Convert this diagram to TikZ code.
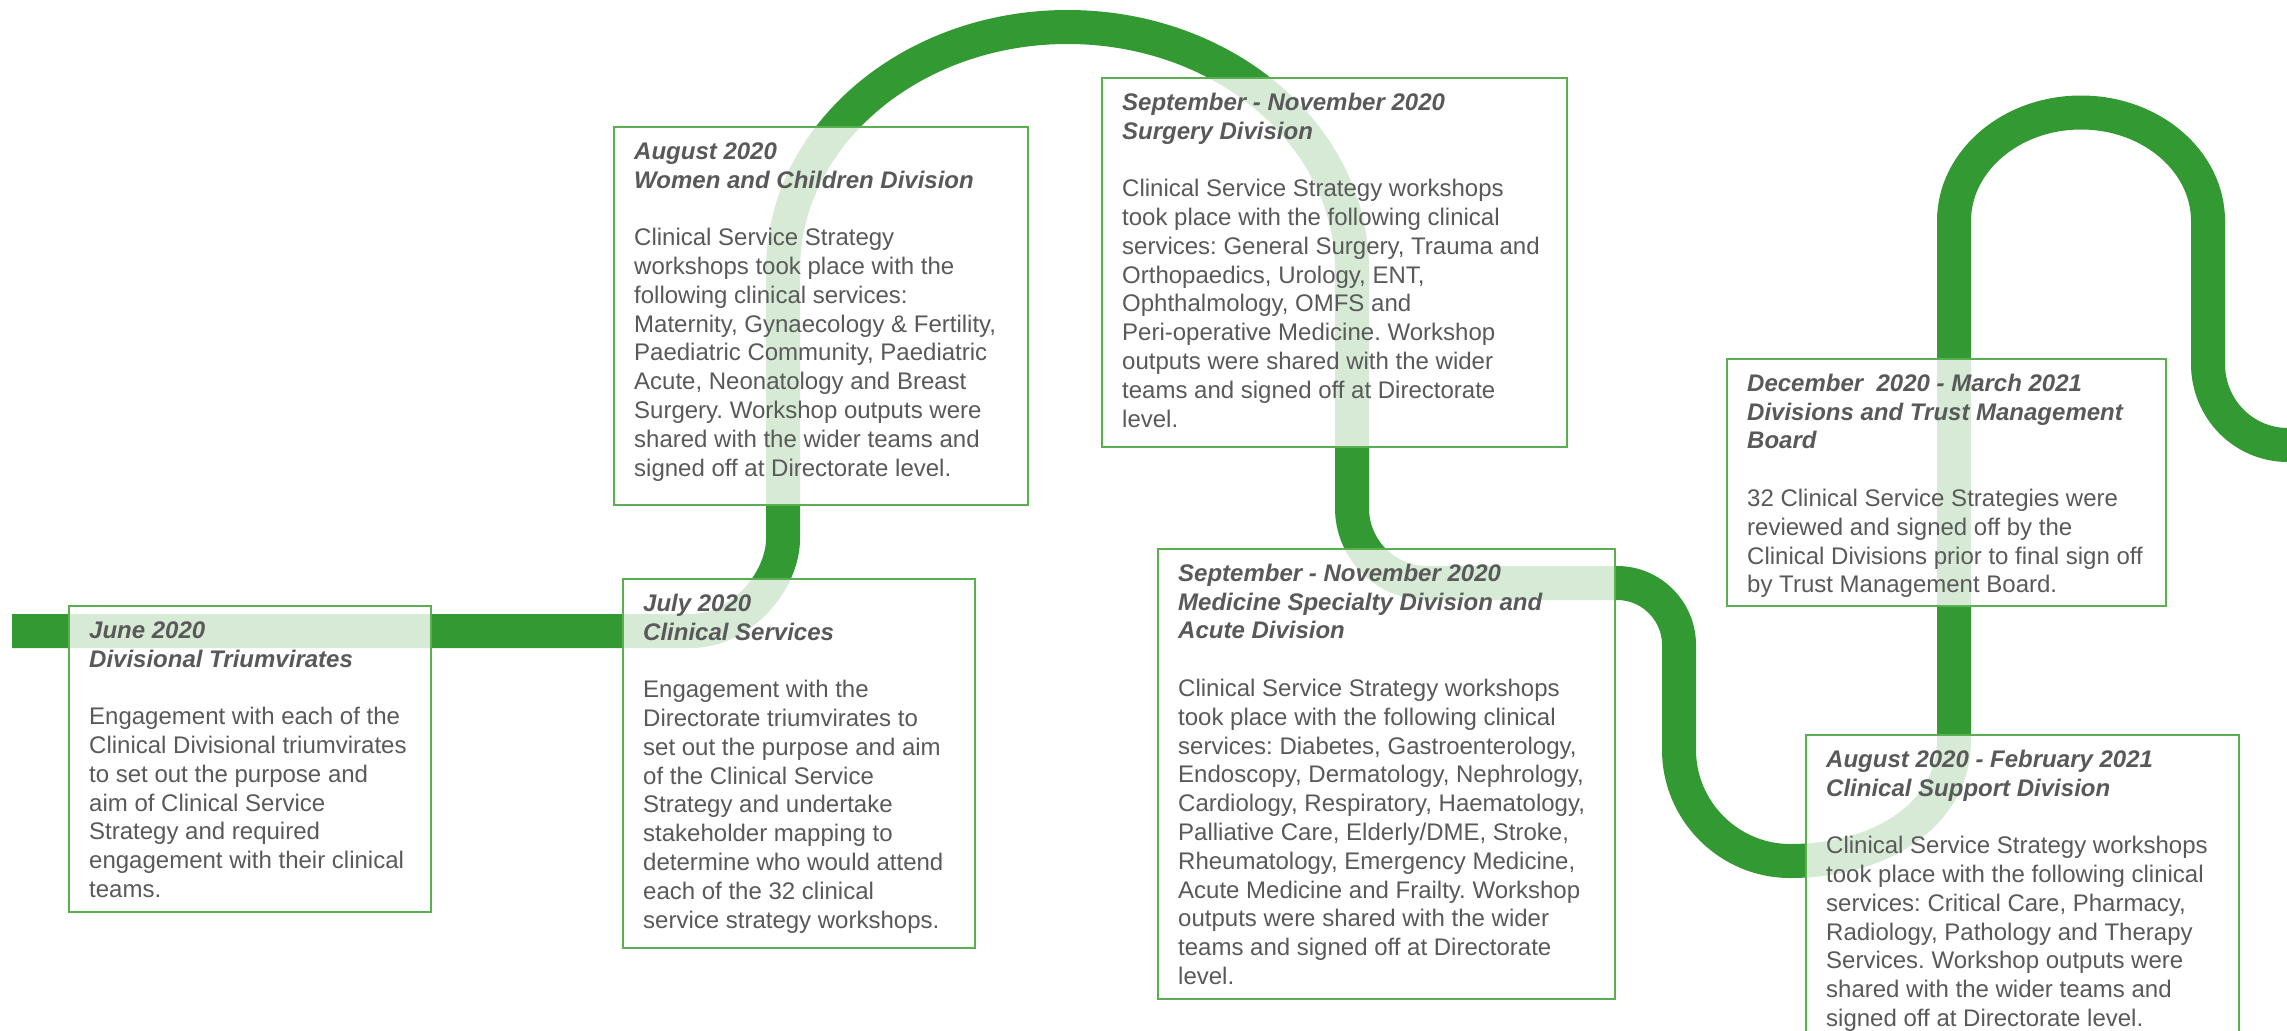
\documentclass[tikz,border=0pt]{standalone}
\usepackage{fontspec}
\setmainfont{Liberation Sans}
\frenchspacing
\definecolor{pathgreen}{RGB}{51,153,51}
\definecolor{boxgreen}{RGB}{90,175,80}
\definecolor{txtgray}{RGB}{89,89,89}
\newcommand{\cardhead}[1]{{\bfseries\itshape #1}}
\newcommand{\firststrut}{\rule{0pt}{20pt}}
\tikzset{
  road/.style={draw=pathgreen, line width=34pt},
  card/.style={draw=boxgreen, line width=2pt, fill=white, fill opacity=0.8, draw opacity=1, rectangle, inner sep=0pt, anchor=north west},
  cardtext/.style={anchor=north west, inner sep=0pt, align=left, text=txtgray, font=\fontsize{24}{28.8}\selectfont\frenchspacing},
}
\begin{document}
\begin{tikzpicture}[x=1pt,y=-1pt]
\useasboundingbox (0,0) rectangle (2287,1031);
\clip (0,0) rectangle (2287,1031);
\fill[white] (0,0) rectangle (2287,1031);
% timeline road
\draw[road] (12,631) -- (691,631)
  .. controls (741.8,631) and (783,580.2) .. (783,539)
  -- (783,270)
  .. controls (783,135.8) and (910.4,27) .. (1067.5,27)
  .. controls (1224.6,27) and (1352,135.8) .. (1352,270)
  -- (1352,508)
  .. controls (1352,549.4) and (1385.6,583) .. (1427,583)
  -- (1617,583)
  .. controls (1651.2,583) and (1679,610.8) .. (1679,645)
  -- (1679,750)
  .. controls (1679,811) and (1729,861) .. (1790,861)
  .. controls (1880,861) and (1954,815) .. (1954,740)
  -- (1954,221)
  .. controls (1954,161.1) and (2010.9,112.5) .. (2081,112.5)
  .. controls (2151.1,112.5) and (2208,161.1) .. (2208,221)
  -- (2208,364)
  .. controls (2208,408.7) and (2243.3,445) .. (2288,445)
  -- (2310,445);
% cards
\node[card, minimum width=362pt, minimum height=306pt] (b1) at (68,605) {};
\node[card, minimum width=352pt, minimum height=369pt] (b2) at (622,578) {};
\node[card, minimum width=414pt, minimum height=378pt] (b3) at (613,126) {};
\node[card, minimum width=465pt, minimum height=369pt] (b4) at (1101,77) {};
\node[card, minimum width=457pt, minimum height=450pt] (b5) at (1157,548) {};
\node[card, minimum width=439pt, minimum height=247pt] (b6) at (1726,358) {};
\node[card, minimum width=433pt, minimum height=330pt] (b7) at (1805,734) {};
% texts
\node[cardtext] (t1) at ([xshift=21pt,yshift=-13pt]b1.north west) {\firststrut\cardhead{June 2020}\\
\cardhead{Divisional Triumvirates}\\[28.8pt]
Engagement with each of the\\
Clinical Divisional triumvirates\\
to set out the purpose and\\
aim of Clinical Service\\
Strategy and required\\
engagement with their clinical\\
teams.};
\node[cardtext] (t2) at ([xshift=21pt,yshift=-13pt]b2.north west) {\firststrut\cardhead{July 2020}\\
\cardhead{Clinical Services}\\[28.8pt]
Engagement with the\\
Directorate triumvirates to\\
set out the purpose and aim\\
of the Clinical Service\\
Strategy and undertake\\
stakeholder mapping to\\
determine who would attend\\
each of the 32 clinical\\
service strategy workshops.};
\node[cardtext] (t3) at ([xshift=21pt,yshift=-13pt]b3.north west) {\firststrut\cardhead{August 2020}\\
\cardhead{Women and Children Division}\\[28.8pt]
Clinical Service Strategy\\
workshops took place with the\\
following clinical services:\\
Maternity, Gynaecology \& Fertility,\\
Paediatric Community, Paediatric\\
Acute, Neonatology and Breast\\
Surgery. Workshop outputs were\\
shared with the wider teams and\\
signed off at Directorate level.};
\node[cardtext] (t4) at ([xshift=21pt,yshift=-13pt]b4.north west) {\firststrut\cardhead{September - November 2020}\\
\cardhead{Surgery Division}\\[28.8pt]
Clinical Service Strategy workshops\\
took place with the following clinical\\
services: General Surgery, Trauma and\\
Orthopaedics, Urology, ENT,\\
Ophthalmology, OMFS and\\
Peri-operative Medicine. Workshop\\
outputs were shared with the wider\\
teams and signed off at Directorate\\
level.};
\node[cardtext] (t5) at ([xshift=21pt,yshift=-13pt]b5.north west) {\firststrut\cardhead{September - November 2020}\\
\cardhead{Medicine Specialty Division and}\\
\cardhead{Acute Division}\\[28.8pt]
Clinical Service Strategy workshops\\
took place with the following clinical\\
services: Diabetes, Gastroenterology,\\
Endoscopy, Dermatology, Nephrology,\\
Cardiology, Respiratory, Haematology,\\
Palliative Care, Elderly/DME, Stroke,\\
Rheumatology, Emergency Medicine,\\
Acute Medicine and Frailty. Workshop\\
outputs were shared with the wider\\
teams and signed off at Directorate\\
level.};
\node[cardtext] (t6) at ([xshift=21pt,yshift=-13pt]b6.north west) {\firststrut\cardhead{December\ \ 2020 - March 2021}\\
\cardhead{Divisions and Trust Management}\\
\cardhead{Board}\\[28.8pt]
32 Clinical Service Strategies were\\
reviewed and signed off by the\\
Clinical Divisions prior to final sign off\\
by Trust Management Board.};
\node[cardtext] (t7) at ([xshift=21pt,yshift=-13pt]b7.north west) {\firststrut\cardhead{August 2020 - February 2021}\\
\cardhead{Clinical Support Division}\\[28.8pt]
Clinical Service Strategy workshops\\
took place with the following clinical\\
services: Critical Care, Pharmacy,\\
Radiology, Pathology and Therapy\\
Services. Workshop outputs were\\
shared with the wider teams and\\
signed off at Directorate level.};
\end{tikzpicture}
\end{document}
